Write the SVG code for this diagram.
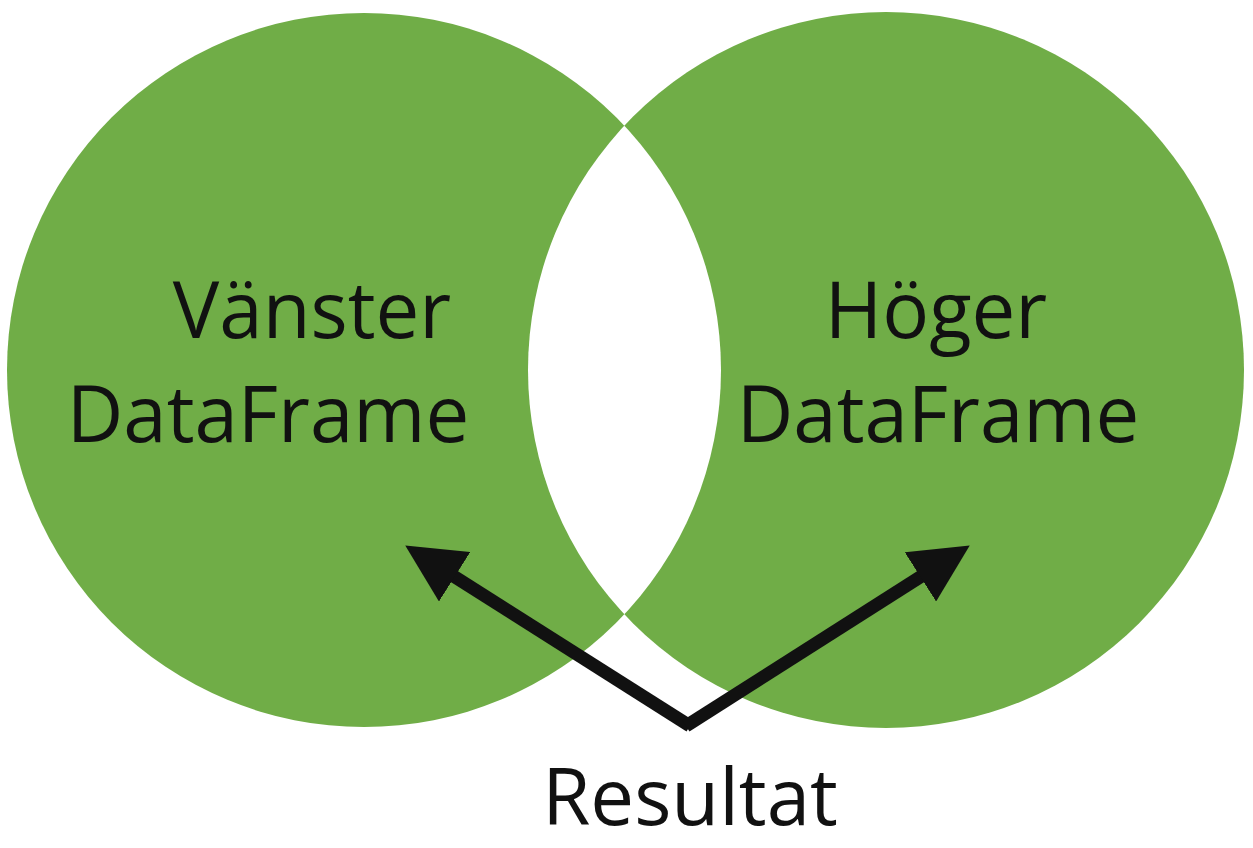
<svg xmlns="http://www.w3.org/2000/svg" width="1253" height="848" viewBox="0 0 1253 848">
<style>
.c{fill:#70ad47}
.t{font-family:"Open Sans","Liberation Sans",sans-serif;font-size:78px;fill:#111;text-anchor:middle}
.a{stroke:#111;stroke-width:13;fill:none;marker-end:url(#ah)}
</style>
<defs>
<marker id="ah" viewBox="0 0 10 10" refX="6" refY="5" markerWidth="4.5" markerHeight="4.5" orient="auto" markerUnits="strokeWidth"><path d="M0,0L10,5L0,10z" fill="#111"/></marker>
<clipPath id="lc"><circle cx="364" cy="370" r="357"/></clipPath>
</defs>
<rect width="1253" height="848" fill="#fff"/>
<g id="left"><circle class="c" cx="364" cy="370" r="357"/><text class="t" x="312" y="338">Vänster</text><text class="t" x="268" y="442">DataFrame</text></g>
<g id="right"><circle class="c" cx="886" cy="370" r="358"/><text class="t" x="936" y="338">Höger</text><text class="t" x="938" y="442">DataFrame</text></g>
<circle cx="886" cy="370" r="358" fill="#fff" clip-path="url(#lc)"/>
<g id="connectors"><path class="a" d="M690,726L425,558"/><path class="a" d="M686,726L950,558"/></g>
<g id="result"><text class="t" x="690" y="825">Resultat</text></g>
</svg>
